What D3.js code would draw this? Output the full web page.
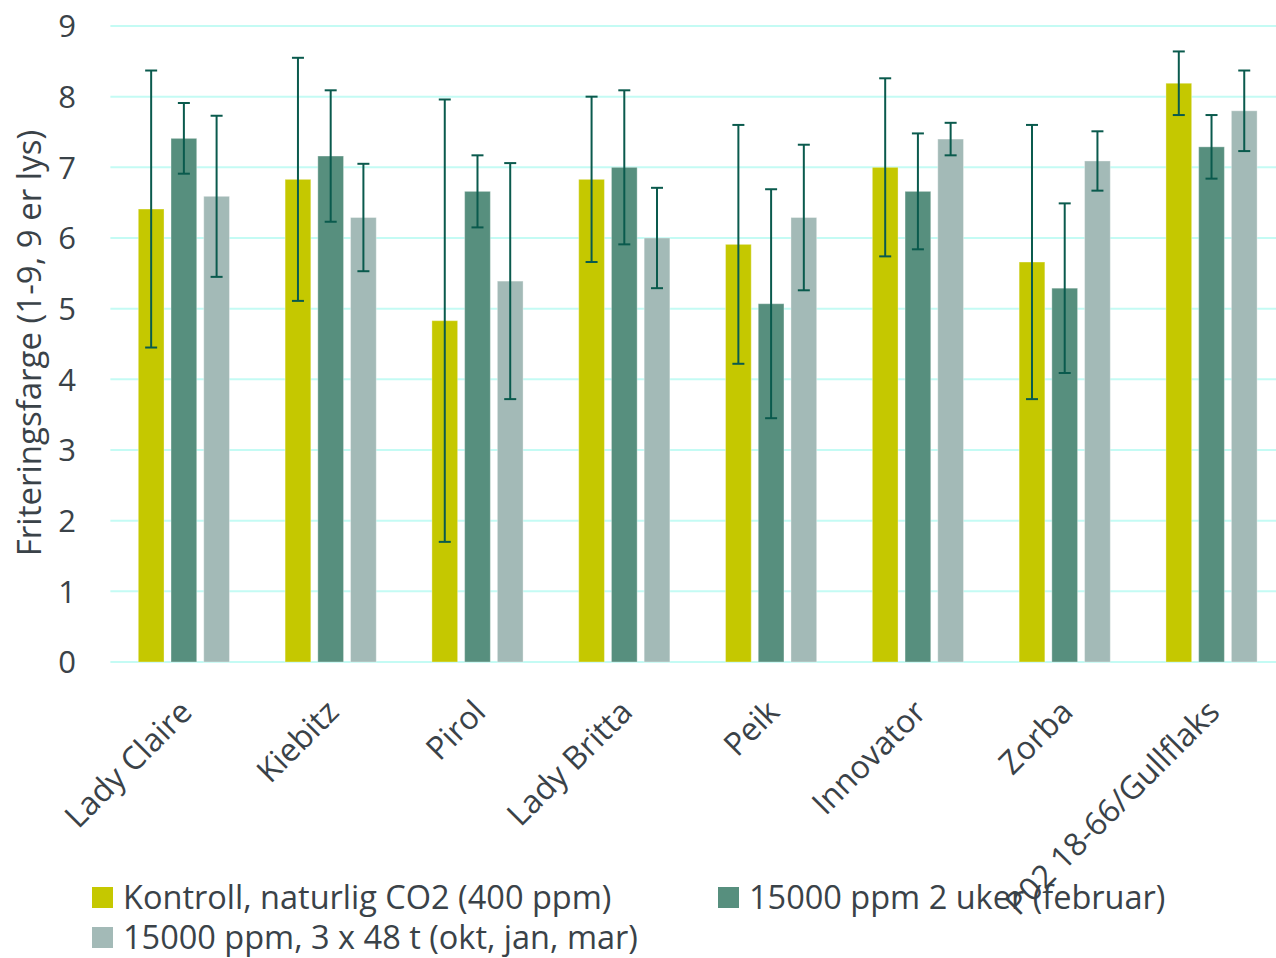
<!DOCTYPE html>
<html><head><meta charset="utf-8">
<script src="https://cdn.jsdelivr.net/npm/d3@7"></script>
<style>
html,body{margin:0;padding:0;background:#fff;}
svg{display:block;font-family:"Open Sans",sans-serif;}
</style></head>
<body><svg id="c" width="1276" height="958"></svg>
<script>
const categories = ["Lady Claire","Kiebitz","Pirol","Lady Britta","Peik","Innovator","Zorba","P02 18-66/Gullflaks"];
const seriesNames = ["Kontroll, naturlig CO2 (400 ppm)","15000 ppm 2 uker (februar)","15000 ppm, 3 x 48 t (okt, jan, mar)"];
const kontroll = [6.41, 6.83, 4.83, 6.83, 5.91, 7.00, 5.66, 8.19];
const uker2    = [7.41, 7.16, 6.66, 7.00, 5.07, 6.66, 5.29, 7.29];
const x48t     = [6.59, 6.29, 5.39, 6.00, 6.29, 7.40, 7.09, 7.80];
const errKontroll = [1.96, 1.72, 3.13, 1.17, 1.69, 1.26, 1.94, 0.45];
const errUker2    = [0.50, 0.93, 0.51, 1.09, 1.62, 0.82, 1.20, 0.45];
const errX48t     = [1.14, 0.76, 1.67, 0.71, 1.03, 0.23, 0.42, 0.57];
const yTicks = [0,1,2,3,4,5,6,7,8,9];
const yTitle = "Friteringsfarge (1-9, 9 er lys)";

(function(){
const colors = ["#c5c800","#578f7e","#a3bab7"];
const values = [kontroll, uker2, x48t];
const errs = [errKontroll, errUker2, errX48t];
const textColor = "#3a4248";

const svg = d3.select("#c");
const pLeft = 110.4, pRight = 1285, pTop = 26, pBottom = 662;

const y = d3.scaleLinear().domain([0,9]).range([pBottom, pTop]);
const x0 = d3.scaleBand().domain(categories).range([pLeft, pRight]).paddingInner(0.379).paddingOuter(0.19);
const x1 = d3.scaleBand().domain(d3.range(3)).range([0, x0.bandwidth()]).paddingInner(0.214).paddingOuter(0);

// gridlines
svg.append("g").selectAll("line").data(yTicks).join("line")
  .attr("x1", pLeft).attr("x2", 1276)
  .attr("y1", d => y(d)).attr("y2", d => y(d))
  .attr("stroke", "#c4fbf4").attr("stroke-width", 2);

// y axis labels
const yAxis = d3.axisLeft(y).tickValues(yTicks).tickSize(0).tickPadding(0).tickFormat(d3.format("d"));
const gy = svg.append("g").attr("transform", `translate(76,0)`).call(yAxis);
gy.select(".domain").remove();
gy.selectAll("text").attr("font-size", 31).attr("fill", textColor).attr("font-family","Open Sans").attr("dy","0.35em");

// y title
svg.append("text").attr("transform", `translate(41,${343}) rotate(-90)`)
  .attr("text-anchor","middle").attr("font-size", 33).attr("fill",textColor).text(yTitle);

// bars
const rows = [];
categories.forEach((c,i) => values.forEach((v,s) => rows.push({c, s, v: v[i], e: errs[s][i]})));
const g = svg.append("g");
g.selectAll("rect").data(rows).join("rect")
  .attr("x", d => x0(d.c) + x1(d.s))
  .attr("width", x1.bandwidth())
  .attr("y", d => y(d.v))
  .attr("height", d => y(0) - y(d.v))
  .attr("fill", d => colors[d.s])
  .attr("stroke", "rgba(255,255,255,0.35)").attr("stroke-width", 1);

// error bars
const eb = svg.append("g").attr("stroke", "#0a5a4d").attr("stroke-width", 2);
rows.forEach(d => {
  const cx = x0(d.c) + x1(d.s) + x1.bandwidth()/2;
  eb.append("line").attr("x1", cx).attr("x2", cx).attr("y1", y(d.v + d.e)).attr("y2", y(d.v - d.e));
  eb.append("line").attr("x1", cx-6).attr("x2", cx+6).attr("y1", y(d.v + d.e)).attr("y2", y(d.v + d.e));
  eb.append("line").attr("x1", cx-6).attr("x2", cx+6).attr("y1", y(d.v - d.e)).attr("y2", y(d.v - d.e));
});

// x labels
svg.append("g").selectAll("text").data(categories).join("text")
  .attr("transform", d => `translate(${x0(d) + x0.bandwidth()/2 + 10},${714}) rotate(-45)`)
  .attr("text-anchor","end").attr("font-size", 32).attr("fill",textColor).text(d => d);

// legend
const legendPos = [[92,898],[718,898],[92,938]];
const lg = svg.append("g");
seriesNames.forEach((n,i) => {
  const [lx, ly] = legendPos[i];
  lg.append("rect").attr("x", lx).attr("y", ly-11).attr("width", 21).attr("height", 21).attr("fill", colors[i]);
  lg.append("text").attr("x", lx+31).attr("y", ly).attr("dy","0.35em").attr("font-size", 32.5).attr("fill",textColor).text(n);
});
})();
</script></body></html>
